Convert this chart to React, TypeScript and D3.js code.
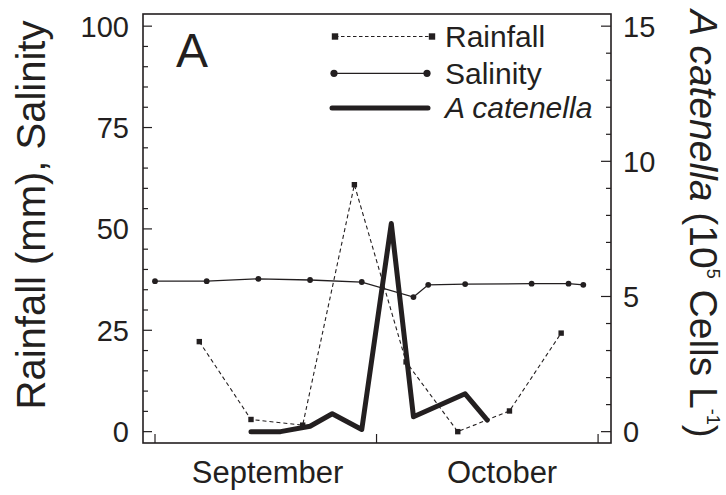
import React from "react";
import * as d3 from "d3";

// ---- data ----
const salinityDates = ["2001-09-01", "2001-09-08", "2001-09-15", "2001-09-22", "2001-09-29", "2001-10-06", "2001-10-08", "2001-10-13", "2001-10-22", "2001-10-27", "2001-10-29"];
const salinityValues = [37.1, 37.1, 37.7, 37.4, 36.9, 33.2, 36.2, 36.4, 36.5, 36.5, 36.2];

const rainfallDates = ["2001-09-07", "2001-09-14", "2001-09-21", "2001-09-28", "2001-10-05", "2001-10-12", "2001-10-19", "2001-10-26"];
const rainfallValues = [22.2, 3.0, 1.6, 60.9, 17.2, 0, 5.1, 24.3];

const catenellaDates = ["2001-09-14", "2001-09-18", "2001-09-22", "2001-09-25", "2001-09-29", "2001-10-03", "2001-10-06", "2001-10-13", "2001-10-16"];
const catenellaValues = [0, 0, 0.2, 0.66, 0.08, 7.7, 0.55, 1.4, 0.43];

const leftMajorTicks = [0, 25, 50, 75, 100];
const leftMinorTicks = d3.range(0, 101, 5);
const rightMajorTicks = [0, 5, 10, 15];
const rightMinorTicks = d3.range(0, 16, 1);
const monthTickDates = ["2001-09-01", "2001-10-01", "2001-10-31"];
const monthLabels = ["September", "October"];
const monthLabelDates = ["2001-09-16T06:00", "2001-10-18"];

const parse = (s: string) => (s.length > 10 ? d3.utcParse("%Y-%m-%dT%H:%M")(s) : d3.utcParse("%Y-%m-%d")(s)) as Date;

const INK = "#231f20";
const FONT = "'Liberation Sans', Arial, Helvetica, sans-serif";

export default function App() {
  const W = 726, H = 495;
  const left = 143, right = 611, top = 14, bottom = 443;

  const x = d3.scaleUtc()
    .domain([new Date(Date.UTC(2001, 7, 30, 9)), new Date(Date.UTC(2001, 10, 1, 18))])
    .range([left, right]);
  const yL = d3.scaleLinear().domain([-2.8, 103]).range([bottom, top]);
  const yR = d3.scaleLinear().domain([-0.42, 15.45]).range([bottom, top]);

  const sal = salinityDates.map((d, i) => ({ d: parse(d), v: salinityValues[i] }));
  const rain = rainfallDates.map((d, i) => ({ d: parse(d), v: rainfallValues[i] }));
  const cat = catenellaDates.map((d, i) => ({ d: parse(d), v: catenellaValues[i] }));

  const lineL = d3.line<{ d: Date; v: number }>().x(p => x(p.d)).y(p => yL(p.v));
  const lineR = d3.line<{ d: Date; v: number }>().x(p => x(p.d)).y(p => yR(p.v));

  const tickFont = 29;

  return (
    <svg width={W} height={H} style={{ position: "absolute", left: 0, top: 0, background: "#fff" }} fontFamily={FONT}>
      <rect x={0} y={0} width={W} height={H} fill="#fff" />
      {/* frame */}
      <rect x={left} y={top} width={right - left} height={bottom - top} fill="none" stroke={INK} strokeWidth={1.6} />

      {/* left ticks */}
      {leftMinorTicks.map(t => (
        <line key={"lm" + t} x1={left} x2={left + (leftMajorTicks.includes(t) ? 9 : 5)} y1={yL(t)} y2={yL(t)} stroke={INK} strokeWidth={1.2} />
      ))}
      {leftMajorTicks.map(t => (
        <text key={"ll" + t} x={129} y={yL(t)} dy="0.36em" textAnchor="end" fontSize={tickFont} fill={INK}>{t}</text>
      ))}

      {/* right ticks */}
      {rightMinorTicks.map(t => (
        <line key={"rm" + t} x1={right} x2={right - (rightMajorTicks.includes(t) ? 10 : 5)} y1={yR(t)} y2={yR(t)} stroke={INK} strokeWidth={1.2} />
      ))}
      {rightMajorTicks.map(t => (
        <text key={"rl" + t} x={623} y={yR(t)} dy="0.36em" textAnchor="start" fontSize={tickFont} fill={INK}>{t}</text>
      ))}

      {/* x ticks */}
      {monthTickDates.map(d => (
        <line key={"xt" + d} x1={x(parse(d))} x2={x(parse(d))} y1={bottom} y2={bottom - 9} stroke={INK} strokeWidth={1.2} />
      ))}
      {monthLabels.map((m, i) => (
        <text key={m} x={x(parse(monthLabelDates[i]))} y={483} textAnchor="middle" fontSize={31} fill={INK}>{m}</text>
      ))}

      {/* axis titles */}
      <text transform="translate(45,215) rotate(-90)" textAnchor="middle" fontSize={40} fill={INK}>Rainfall (mm), Salinity</text>
      <text transform="translate(690,10) rotate(90)" textAnchor="start" fontSize={39} fill={INK}>
        <tspan fontStyle="italic">A catenella</tspan>
        <tspan> (10</tspan>
        <tspan fontSize={18} dy={-17}>5</tspan>
        <tspan dy={17}> Cells L</tspan>
        <tspan fontSize={18} dy={-17}>-1</tspan>
        <tspan dy={17}>)</tspan>
      </text>

      {/* panel label */}
      <text x={176} y={67} fontSize={48} fill={INK}>A</text>

      {/* rainfall */}
      <path d={lineL(rain) || ""} fill="none" stroke={INK} strokeWidth={1.1} strokeDasharray="4,3" />
      {rain.map((p, i) => (
        <rect key={"r" + i} x={x(p.d) - 2.7} y={yL(p.v) - 2.7} width={5.4} height={5.4} fill={INK} />
      ))}

      {/* salinity */}
      <path d={lineL(sal) || ""} fill="none" stroke={INK} strokeWidth={1.3} />
      {sal.map((p, i) => (
        <circle key={"s" + i} cx={x(p.d)} cy={yL(p.v)} r={2.9} fill={INK} />
      ))}

      {/* A catenella */}
      <path d={lineR(cat) || ""} fill="none" stroke={INK} strokeWidth={5} strokeLinejoin="round" strokeLinecap="round" />

      {/* legend */}
      <line x1={335} x2={432} y1={36.5} y2={36.5} stroke={INK} strokeWidth={1.1} strokeDasharray="3.5,2.5" />
      <rect x={335 - 3.2} y={36.5 - 3.2} width={6.4} height={6.4} fill={INK} />
      <rect x={432 - 3.2} y={36.5 - 3.2} width={6.4} height={6.4} fill={INK} />
      <text x={445} y={46.5} fontSize={30} fill={INK}>Rainfall</text>

      <line x1={334} x2={427} y1={73.3} y2={73.3} stroke={INK} strokeWidth={1.3} />
      <circle cx={334} cy={73.3} r={3.6} fill={INK} />
      <circle cx={427} cy={73.3} r={3.6} fill={INK} />
      <text x={445} y={83.5} fontSize={30} fill={INK}>Salinity</text>

      <line x1={332} x2={428} y1={108} y2={108} stroke={INK} strokeWidth={5} strokeLinecap="round" />
      <text x={445} y={118} fontSize={30} fontStyle="italic" fill={INK}>A catenella</text>
    </svg>
  );
}
